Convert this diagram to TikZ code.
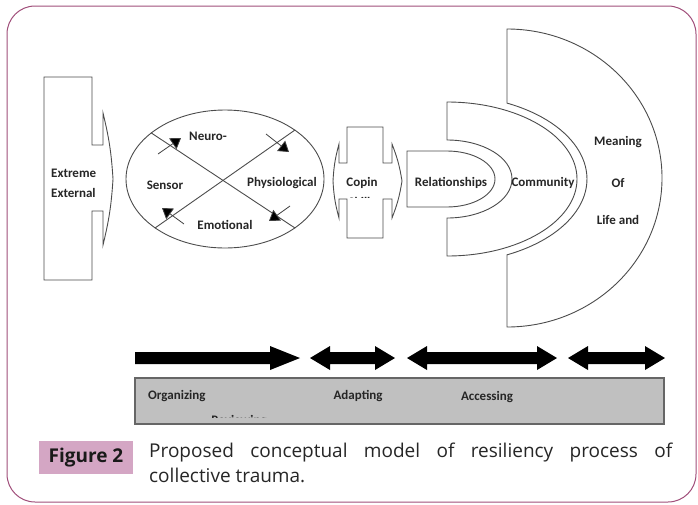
\documentclass[tikz,border=0pt]{standalone}
\usepackage{fontspec}
\setmainfont{Open Sans}
\newfontfamily\calib{Carlito}
\usetikzlibrary{arrows.meta,shapes.geometric}

\definecolor{framerose}{RGB}{160,78,122}
\definecolor{tagrose}{RGB}{212,166,196}
\definecolor{bargrey}{RGB}{192,192,192}

\begin{document}
\begin{tikzpicture}[x=1pt, y=-1pt]
    \tikzstyle{outline}=[draw=black!70, line width=0.9pt, fill=white]
    \tikzstyle{lbl}=[font=\calib\bfseries\fontsize{13}{20}\selectfont, text=black!85, inner sep=0pt]
    \tikzstyle{flowmark}=[draw=black!75, line width=0.8pt, -{Triangle[length=10pt, width=13pt, fill=black]}]
    \tikzstyle{fatarrow}=[fill=black]
    \tikzstyle{capfont}=[font=\fontsize{19}{25}\selectfont, text=black!85, inner sep=0pt]

    \useasboundingbox (0,0) rectangle (698,504);

    % Outer frame
    \draw[framerose, line width=1pt, rounded corners=28pt] (7,6) rectangle (696,502);

    % Extreme external event
    \draw[outline] (44,77) -- (92,77) -- (92,145) -- (103,145) -- (103,113)
        to[bend left=5] (113,179) to[bend left=5] (103,245) -- (103,211)
        -- (92,211) -- (92,280) -- (44,280) -- cycle;
    \node[lbl, align=left, anchor=west] (extreme) at (51,183) {Extreme\\External};

    % Sensory ring with crossing paths
    \node[ellipse, draw=black!70, line width=0.9pt, minimum width=198pt, minimum height=138pt, inner sep=0pt] (senses) at (225,179) {};
    \draw[draw=black!70, line width=0.9pt] (senses.148) -- (senses.-35);
    \draw[draw=black!70, line width=0.9pt] (senses.35) -- (senses.215);
    \draw[flowmark] (158,154) -- (181,138);
    \draw[flowmark] (266,134) -- (289,152);
    \draw[flowmark] (184,224) -- (162,208);
    \draw[flowmark] (290,206) -- (269,221);
    \node[lbl] (neuro) at (208,136) {Neuro-};
    \node[lbl] (sensor) at (165,185) {Sensor};
    \node[lbl] (physio) at (282,183) {Physiological};
    \node[lbl] (emotion) at (225,225) {Emotional};

    % Coping skills
    \draw[outline] (347,127) -- (383,127) -- (383,163) -- (392,163) -- (392,144)
        to[bend left=6] (402,181) to[bend left=6] (392,218) -- (392,199)
        -- (383,199) -- (383,238) -- (347,238) -- (347,199) -- (339,199)
        -- (339,218) to[bend left=6] (333,181) to[bend left=6] (339,144)
        -- (339,163) -- (347,163) -- cycle;
    \node[lbl] (coping) at (362,183) {Copin};
    \begin{scope}
        \clip (340,164) rectangle (391,197);
        \node[lbl] (skills) at (362,202) {Skills};
    \end{scope}

    % Meaning of life
    \draw[outline] (507,29) -- (507,103.1)
        arc[start angle=64.6, end angle=-64.6, x radius=140pt, y radius=84pt]
        -- (507,327) arc[start angle=-90, end angle=90, x radius=155pt, y radius=149pt] -- cycle;
    \node[lbl] (meaning) at (618,142) {Meaning};
    \node[lbl] (of) at (618,183) {Of};
    \node[lbl] (life) at (618,220) {Life and};

    % Community
    \draw[outline] (447,102) -- (447,140)
        arc[start angle=90, end angle=-90, x radius=65pt, y radius=39pt]
        -- (447,256) arc[start angle=-90, end angle=90, x radius=130pt, y radius=77pt] -- cycle;
    \node[lbl] (community) at (543,183) {Community};

    % Relationships
    \draw[outline] (407,151) -- (447,151)
        arc[start angle=90, end angle=-90, x radius=48pt, y radius=28pt]
        -- (407,207) -- cycle;
    \node[lbl] (relations) at (451,183) {Relationships};

    % Process arrows
    \fill[fatarrow] (135,352) -- (270,352) -- (270,346) -- (300,358) -- (270,370)
        -- (270,364) -- (135,364) -- cycle;
    \foreach \a/\b in {310/395, 407/557, 568/665}
        \fill[fatarrow] (\a,358) -- (\a+20,346) -- (\a+20,352) -- (\b-20,352) -- (\b-20,346)
            -- (\b,358) -- (\b-20,370) -- (\b-20,364) -- (\a+20,364) -- (\a+20,370) -- cycle;

    % Phase bar
    \draw[draw=black!60, fill=bargrey, line width=1.2pt] (135,378) rectangle (664,424);
    \node[lbl, anchor=west] (organizing) at (148,396) {Organizing};
    \node[lbl] (adapting) at (358,396) {Adapting};
    \node[lbl] (accessing) at (487,397) {Accessing};
    \begin{scope}
        \clip (136,379) rectangle (663,417);
        \node[lbl] (reviewing) at (239,421) {Reviewing};
    \end{scope}

    % Caption
    \node[fill=tagrose, minimum width=94pt, minimum height=33pt, inner sep=0pt,
        font=\bfseries\fontsize{19}{19}\selectfont, text=black!90] (figtag) at (86,457.5) {Figure 2};
    \node[capfont, anchor=base west] (capline) at (149,457) {\makebox[523pt][s]{Proposed conceptual model of resiliency process of}};
    \node[capfont, anchor=base west] (capend) at (149,482) {collective trauma.};
\end{tikzpicture}
\end{document}
